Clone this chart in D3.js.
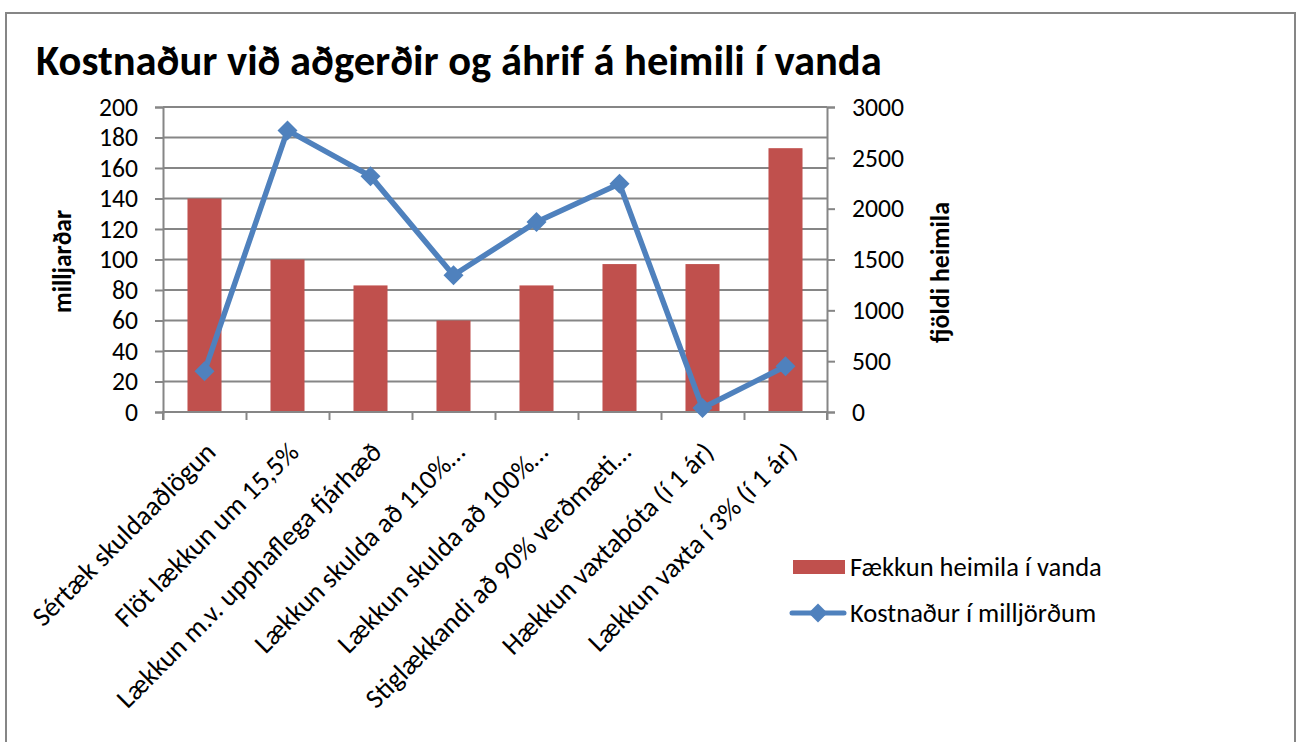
<!DOCTYPE html>
<html>
<head>
<meta charset="utf-8" />
<title>Kostnaður við aðgerðir</title>
<style>
  body { margin: 0; background: #fff; }
  svg text { font-family: Carlito, Lato, "Open Sans", sans-serif; fill: #000; }
</style>
</head>
<body>
<div id="chart"></div>
<script src="https://d3js.org/d3.v7.min.js"></script>
<script>
// data
const categories = [
  "Sértæk skuldaaðlögun",
  "Flöt lækkun um 15,5%",
  "Lækkun m.v. upphaflega fjárhæð",
  "Lækkun skulda að 110%…",
  "Lækkun skulda að 100%…",
  "Stiglækkandi að 90% verðmæti…",
  "Hækkun vaxtabóta (í 1 ár)",
  "Lækkun vaxta í 3% (í 1 ár)"
];
const faekkun = [140, 100, 83, 60, 83, 97, 97, 173];          // bars, left axis
const kostnadur = [400, 2770, 2320, 1345, 1870, 2245, 40, 450]; // line, right axis
const leftTicks = [0, 20, 40, 60, 80, 100, 120, 140, 160, 180, 200];
const rightTicks = [0, 500, 1000, 1500, 2000, 2500, 3000];

const W = 1302, H = 742;
const plot = { left: 163, right: 827, top: 107, bottom: 412 };
const grey = "#868686";
const font = "Carlito, Lato, 'Open Sans', sans-serif";

// scale a text's font size so it spans the wanted width
const fit = (sel, target) => {
  const w = sel.node().getComputedTextLength();
  const fs = parseFloat(sel.style("font-size"));
  sel.style("font-size", (fs * target / w) + "px");
  return fs * target / w;
};

const svg = d3.select("#chart").append("svg")
  .attr("width", W).attr("height", H);

// outer frame
svg.append("rect")
  .attr("x", 6).attr("y", 13).attr("width", 1289).attr("height", 760)
  .attr("fill", "none").attr("stroke", grey).attr("stroke-width", 2);

const title = svg.append("text")
  .attr("x", 36).attr("y", 75)
  .style("font-size", "36px").style("font-weight", "bold")
  .text("Kostnaður við aðgerðir og áhrif á heimili í vanda");
fit(title, 846);

const x = d3.scaleBand().domain(categories)
  .range([plot.left, plot.right]).paddingInner(0.59).paddingOuter(0.295);
const xEdge = d3.scaleLinear().domain([0, categories.length]).range([plot.left, plot.right]);
const yL = d3.scaleLinear().domain([0, 200]).range([plot.bottom, plot.top]);
const yR = d3.scaleLinear().domain([0, 3000]).range([plot.bottom, plot.top]);

// gridlines
svg.append("g").selectAll("line").data(leftTicks.slice(1)).join("line")
  .attr("x1", plot.left).attr("x2", plot.right)
  .attr("y1", d => yL(d)).attr("y2", d => yL(d))
  .attr("stroke", grey).attr("stroke-width", 2);

// bars
svg.append("g").selectAll("rect").data(faekkun).join("rect")
  .attr("x", (d, i) => x(categories[i]))
  .attr("y", d => yL(d))
  .attr("width", x.bandwidth())
  .attr("height", d => yL(0) - yL(d))
  .attr("fill", "#C0504D");

// tick label size from width of "200" in the reference (~39px)
const probe = svg.append("text").style("font-size", "22px").text("200");
const tickFs = fit(probe, 39);
probe.remove();

// left axis
const gl = svg.append("g").attr("transform", `translate(${plot.left},0)`)
  .call(d3.axisLeft(yL).tickValues(leftTicks).tickSize(8).tickPadding(17));
// right axis
const gr = svg.append("g").attr("transform", `translate(${plot.right},0)`)
  .call(d3.axisRight(yR).tickValues(rightTicks).tickSize(8).tickPadding(17).tickFormat(d3.format("d")));
// bottom axis
const gb = svg.append("g").attr("transform", `translate(0,${plot.bottom})`)
  .call(d3.axisBottom(xEdge).ticks(categories.length).tickSize(8).tickFormat(""));

[gl, gr, gb].forEach(g => {
  g.select(".domain").attr("stroke", grey).attr("stroke-width", 2);
  g.selectAll(".tick line").attr("stroke", grey).attr("stroke-width", 2);
  g.selectAll(".tick text").style("font-size", tickFs + "px").attr("fill", "#000")
    .style("font-family", font);
});
gb.select(".domain").attr("d", `M${plot.left},8V0H${plot.right}V8`);

// category labels, rotated
const labels = svg.append("g").selectAll("text").data(categories).join("text")
  .attr("transform", d => `translate(${x(d) + x.bandwidth() / 2 + 6},447) rotate(-45)`)
  .attr("text-anchor", "end").attr("dy", "0.35em")
  .style("font-size", "22px")
  .text(d => d);
const labFs = fit(d3.select(labels.nodes()[1]), 247);
labels.style("font-size", labFs + "px");

// axis titles
const tl = svg.append("text")
  .attr("transform", `translate(71,261.5) rotate(-90)`)
  .attr("text-anchor", "middle")
  .style("font-size", "20px").style("font-weight", "bold")
  .text("milljarðar");
fit(tl, 103);
const tr = svg.append("text")
  .attr("transform", `translate(949,272.5) rotate(-90)`)
  .attr("text-anchor", "middle")
  .style("font-size", "20px").style("font-weight", "bold")
  .text("fjöldi heimila");
fit(tr, 141);

// line series
const cx = i => x(categories[i]) + x.bandwidth() / 2;
const blue = "#4F81BD";
svg.append("path")
  .datum(kostnadur)
  .attr("d", d3.line().x((d, i) => cx(i)).y(d => yR(d)))
  .attr("fill", "none").attr("stroke", blue).attr("stroke-width", 5.5)
  .attr("stroke-linejoin", "round");
svg.append("g").selectAll("path").data(kostnadur).join("path")
  .attr("transform", (d, i) => `translate(${cx(i)},${yR(d)}) rotate(45)`)
  .attr("d", d3.symbol().type(d3.symbolSquare).size(200))
  .attr("fill", blue);

// legend
const lg = svg.append("g");
lg.append("rect").attr("x", 793).attr("y", 560).attr("width", 52).attr("height", 14)
  .attr("fill", "#C0504D");
const l1 = lg.append("text").attr("x", 850).attr("y", 567).attr("dy", "0.35em")
  .style("font-size", "22px").text("Fækkun heimila í vanda");
const legFs = fit(l1, 252);
lg.append("line").attr("x1", 792).attr("x2", 844).attr("y1", 613).attr("y2", 613)
  .attr("stroke", blue).attr("stroke-width", 5).attr("stroke-linecap", "round");
lg.append("path").attr("transform", "translate(818,613) rotate(45)")
  .attr("d", d3.symbol().type(d3.symbolSquare).size(180)).attr("fill", blue);
lg.append("text").attr("x", 850).attr("y", 613).attr("dy", "0.35em")
  .style("font-size", legFs + "px").text("Kostnaður í milljörðum");
</script>
</body>
</html>
